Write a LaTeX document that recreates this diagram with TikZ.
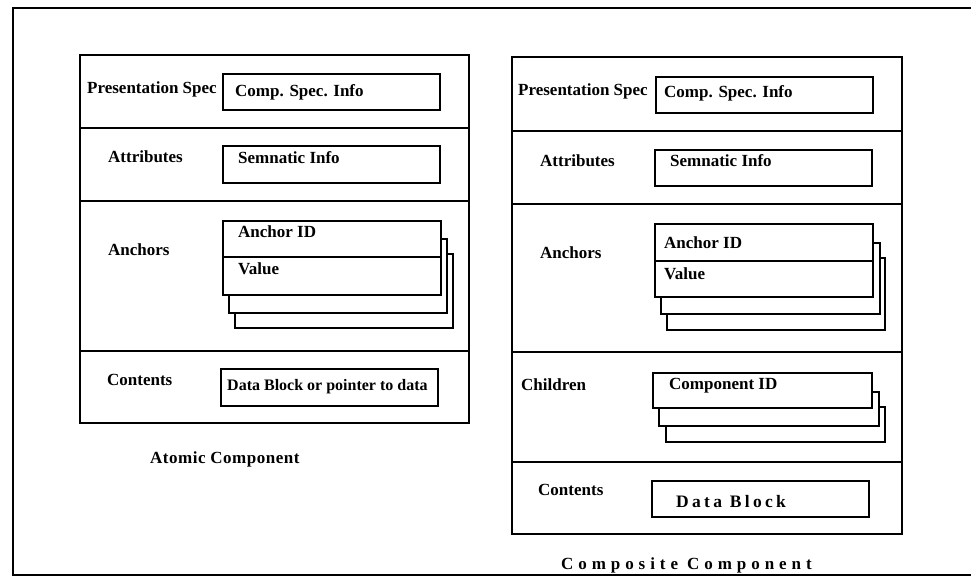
\documentclass[tikz,border=0pt]{standalone}
\usepackage{fontspec}
\setmainfont{Liberation Serif}
\begin{document}
\begin{tikzpicture}[x=1pt,y=-1pt,
  box/.style={draw=black,line width=1.5pt,fill=white},
  frame/.style={draw=black,line width=1.5pt},
  lbl/.style={anchor=base west,inner sep=0pt,font=\fontsize{17}{19}\selectfont\bfseries},
  small/.style={anchor=base west,inner sep=0pt,font=\fontsize{16}{18}\selectfont\bfseries},
  titlef/.style={anchor=base west,inner sep=0pt,font=\fontsize{17}{19}\selectfont\bfseries\addfontfeature{LetterSpace=3}},
  spaced/.style={anchor=base west,inner sep=0pt,font=\fontsize{17}{19}\selectfont\bfseries\addfontfeature{LetterSpace=29}},
  spacedb/.style={anchor=base west,inner sep=0pt,font=\fontsize{17.5}{19}\selectfont\bfseries\addfontfeature{LetterSpace=19}}]
\useasboundingbox (0,0) rectangle (971,582);
% outer frame
\draw[frame] (971,8) -- (13,8) -- (13,575) -- (971,575);

% ===== Atomic component =====
\draw[frame] (80,55) rectangle (469,423);
\draw[frame] (80,128) -- (469,128);
\draw[frame] (80,201) -- (469,201);
\draw[frame] (80,351) -- (469,351);
\draw[box] (223,74) rectangle (440,110);
\draw[box] (223,146) rectangle (440,183);
\draw[box] (235,254) rectangle (453,328);
\draw[box] (229,239) rectangle (447,313);
\draw[box] (223,221) rectangle (441,295);
\draw[frame] (223,257) -- (441,257);
\draw[box] (221,369) rectangle (438,406);

\node[lbl] (a-ps) at (87,93) {Presentation Spec};
\node[lbl] (a-csi) at (235,96) {Comp. Spec. Info};
\node[lbl] (a-at) at (108,162) {Attributes};
\node[lbl] (a-si) at (238,163) {Semnatic Info};
\node[lbl] (a-an) at (108,255) {Anchors};
\node[lbl] (a-aid) at (238,237) {Anchor ID};
\node[lbl] (a-val) at (238,274) {Value};
\node[lbl] (a-co) at (107,385) {Contents};
\node[small] (a-db) at (227,390) {Data Block or pointer to data};
\node[titlef] (a-title) at (150,463) {Atomic Component};

% ===== Composite component =====
\draw[frame] (512,57) rectangle (902,534);
\draw[frame] (512,131) -- (902,131);
\draw[frame] (512,204) -- (902,204);
\draw[frame] (512,352) -- (902,352);
\draw[frame] (512,462) -- (902,462);
\draw[box] (656,77) rectangle (873,113);
\draw[box] (655,150) rectangle (872,186);
\draw[box] (667,258) rectangle (885,330);
\draw[box] (661,243) rectangle (880,314);
\draw[box] (655,224) rectangle (873,297);
\draw[frame] (655,261) -- (873,261);
\draw[box] (666,407) rectangle (885,442);
\draw[box] (659,392) rectangle (879,426);
\draw[box] (653,373) rectangle (872,408);
\draw[box] (652,481) rectangle (869,517);

\node[lbl] (c-ps) at (518,95) {Presentation Spec};
\node[lbl] (c-csi) at (664,97) {Comp. Spec. Info};
\node[lbl] (c-at) at (540,166) {Attributes};
\node[lbl] (c-si) at (670,166) {Semnatic Info};
\node[lbl] (c-an) at (540,258) {Anchors};
\node[lbl] (c-aid) at (664,248) {Anchor ID};
\node[lbl] (c-val) at (664,279) {Value};
\node[lbl] (c-ch) at (521,390) {Children};
\node[lbl] (c-cid) at (669,389) {Component ID};
\node[lbl] (c-co) at (538,495) {Contents};
\node[spacedb] (c-db) at (676,507) {Data Block};
\node[spaced] (c-title) at (561,569) {Composite Component};
\end{tikzpicture}
\end{document}
